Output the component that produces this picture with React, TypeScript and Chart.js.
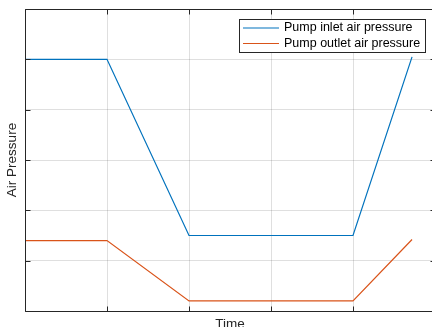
import React, { useEffect, useRef } from "react";
import { Chart, registerables } from "chart.js";

Chart.register(...registerables);

const timeValues = [0, 1, 2, 4, 4.72];
const inletPressure = [5, 5, 1.5, 1.5, 5.05];
const outletPressure = [1.4, 1.4, 0.2, 0.2, 1.42];
const seriesLabels = ["Pump inlet air pressure", "Pump outlet air pressure"];
const xAxisTitle = "Time";
const yAxisTitle = "Air Pressure";
const xRange = [0, 5];
const yRange = [0, 6];

const FONT = "'Liberation Sans', Arial, Helvetica, sans-serif";
const AXIS_COLOR = "#262626";

const matlabPlugin = {
  id: "matlabDecor",
  afterDraw(chart: any) {
    const { ctx, chartArea } = chart;
    const { left, right, top, bottom } = chartArea;
    const xs = chart.scales.x;
    const ys = chart.scales.y;
    ctx.save();
    // box
    ctx.strokeStyle = AXIS_COLOR;
    ctx.lineWidth = 1;
    const L = Math.round(left) + 0.5;
    const R = Math.round(right) + 0.5;
    const T = Math.round(top) + 0.5;
    const B = Math.round(bottom) + 0.5;
    ctx.beginPath();
    ctx.rect(L, T, R - L, B - T);
    ctx.stroke();
    // inward ticks
    const tl = 5;
    ctx.beginPath();
    xs.ticks.forEach((t: any) => {
      const px = Math.round(xs.getPixelForValue(t.value)) + 0.5;
      ctx.moveTo(px, B);
      ctx.lineTo(px, B - tl);
      ctx.moveTo(px, T);
      ctx.lineTo(px, T + tl);
    });
    ys.ticks.forEach((t: any) => {
      const py = Math.round(ys.getPixelForValue(t.value)) + 0.5;
      ctx.moveTo(L, py);
      ctx.lineTo(L + tl, py);
      ctx.moveTo(R, py);
      ctx.lineTo(R - tl, py);
    });
    ctx.stroke();

    // axis titles
    ctx.fillStyle = AXIS_COLOR;
    ctx.font = `13.5px ${FONT}`;
    ctx.textAlign = "center";
    ctx.textBaseline = "middle";
    ctx.fillText(xAxisTitle, (left + right) / 2, bottom + 13.5);
    ctx.save();
    ctx.translate(12, (top + bottom) / 2);
    ctx.rotate(-Math.PI / 2);
    ctx.fillText(yAxisTitle, 0, 0);
    ctx.restore();

    // legend
    ctx.font = `12.5px ${FONT}`;
    const datasets = chart.data.datasets;
    let maxW = 0;
    datasets.forEach((d: any) => {
      maxW = Math.max(maxW, ctx.measureText(d.label).width);
    });
    const boxW = Math.round(45 + maxW + 5);
    const boxH = 33;
    const bx = Math.round(right) - 10 - boxW;
    const by = Math.round(top) + 10;
    ctx.fillStyle = "#ffffff";
    ctx.fillRect(bx, by, boxW, boxH);
    ctx.strokeStyle = AXIS_COLOR;
    ctx.lineWidth = 1;
    ctx.strokeRect(bx + 0.5, by + 0.5, boxW, boxH);
    datasets.forEach((d: any, i: number) => {
      const cy = by + 9 + i * 15.5;
      ctx.strokeStyle = d.borderColor;
      ctx.lineWidth = 1.2;
      ctx.beginPath();
      ctx.moveTo(bx + 4, cy);
      ctx.lineTo(bx + 40, cy);
      ctx.stroke();
      ctx.fillStyle = "#000000";
      ctx.textAlign = "left";
      ctx.textBaseline = "middle";
      ctx.fillText(d.label, bx + 45, cy);
    });
    ctx.restore();
  },
};

export default function App() {
  const canvasRef = useRef<HTMLCanvasElement | null>(null);

  useEffect(() => {
    if (!canvasRef.current) return;
    const chart = new Chart(canvasRef.current, {
      type: "line",
      data: {
        datasets: [
          {
            label: seriesLabels[0],
            data: timeValues.map((t, i) => ({ x: t, y: inletPressure[i] })),
            borderColor: "#0072BD",
            borderWidth: 1.2,
            pointRadius: 0,
            tension: 0,
            fill: false,
          },
          {
            label: seriesLabels[1],
            data: timeValues.map((t, i) => ({ x: t, y: outletPressure[i] })),
            borderColor: "#D95319",
            borderWidth: 1.2,
            pointRadius: 0,
            tension: 0,
            fill: false,
          },
        ],
      },
      options: {
        animation: false,
        responsive: false,
        devicePixelRatio: 1,
        layout: { padding: { left: 25, top: 9, right: 5, bottom: 20 } },
        plugins: {
          legend: { display: false },
          tooltip: { enabled: false },
        },
        scales: {
          x: {
            type: "linear",
            min: xRange[0],
            max: xRange[1],
            ticks: { display: false, stepSize: 1 },
            grid: { color: "rgba(38,38,38,0.15)", drawTicks: false, lineWidth: 1 },
            border: { display: false },
          },
          y: {
            type: "linear",
            min: yRange[0],
            max: yRange[1],
            ticks: { display: false, stepSize: 1 },
            grid: { color: "rgba(38,38,38,0.15)", drawTicks: false, lineWidth: 1 },
            border: { display: false },
          },
        },
      },
      plugins: [matlabPlugin],
    });
    return () => chart.destroy();
  }, []);

  return (
    <div
      style={{
        position: "fixed",
        left: 0,
        top: 0,
        width: 432,
        height: 327,
        overflow: "hidden",
        background: "#ffffff",
      }}
    >
      <canvas
        ref={canvasRef}
        width={440}
        height={331}
        style={{ width: 440, height: 331, display: "block" }}
      />
    </div>
  );
}
